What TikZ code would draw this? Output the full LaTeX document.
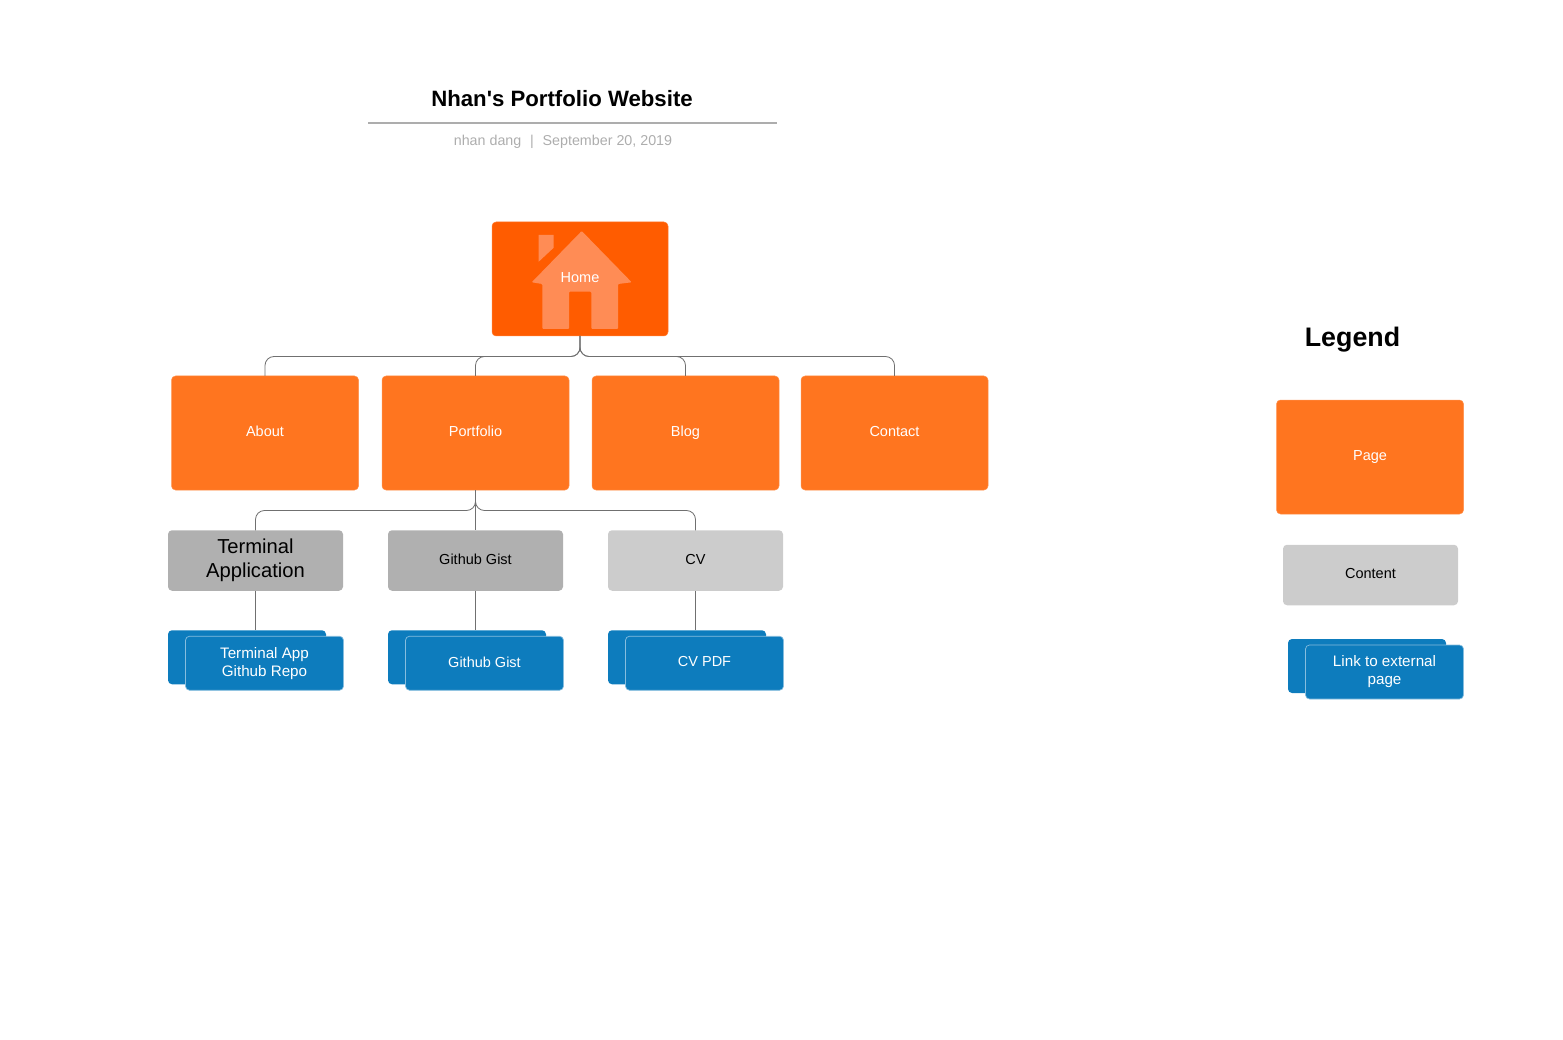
\documentclass[tikz,border=0pt]{standalone}
\usepackage{fontspec}
\setmainfont{Liberation Sans}
\newfontfamily\titlefont{Liberation Sans}
\usepackage{tikz}
\usetikzlibrary{positioning}
\definecolor{homeorange}{HTML}{FF5C00}
\definecolor{houseorange}{HTML}{FF8C55}
\definecolor{pageorange}{HTML}{FF751F}
\definecolor{darkcontent}{HTML}{B0B0B0}
\definecolor{lightcontent}{HTML}{CCCCCC}
\definecolor{linkblue}{HTML}{0D7CBD}
\definecolor{connector}{HTML}{707070}
\definecolor{subtitle}{HTML}{ADADAD}
\newcommand{\bodysize}{\fontsize{14.5}{18}\selectfont}
\newcommand{\linksize}{\fontsize{15.2}{18}\selectfont}
\tikzset{
	box/.style={rounded corners=4pt, inner sep=0pt, outer sep=0pt, align=center, font=\bodysize, execute at end node=\vphantom{g}},
	homebox/.style={box, fill=homeorange, draw=homeorange!80!white, line width=0.5pt, text=white, minimum width=176pt, minimum height=114pt},
	pagebox/.style={box, fill=pageorange, draw=pageorange!80!white, line width=0.5pt, text=white, minimum width=187pt, minimum height=114pt},
	contentbox/.style={box, text=black, minimum width=175pt, minimum height=60.5pt},
	linkback/.style={box, fill=linkblue, minimum width=158pt, minimum height=54pt},
	linkfront/.style={box, fill=linkblue, draw=linkblue!50!white, line width=0.7pt, text=white, minimum width=158pt, minimum height=54pt},
	wire/.style={draw=connector, line width=0.8pt, rounded corners=9pt},
}
\begin{document}
\begin{tikzpicture}[x=1pt,y=-1pt]
		\useasboundingbox (0,0) rectangle (1563,1040);
		
		% Title block
		\node[font=\titlefont\fontsize{22.2}{26}\selectfont\bfseries] (title) at (562,98.5) {Nhan's Portfolio Website};
		\coordinate (ruleleft) at (368,123);
		\coordinate (ruleright) at (777,123);
		\draw[draw=subtitle, line width=1.2pt] (ruleleft) -- (ruleright);
		\node[font=\fontsize{14.3}{18}\selectfont, text=subtitle] (byline) at (563,142) {nhan dang\, \,|\, \,September 20, 2019};
		
		% Define nodes
		\node[homebox] (home) at (580,279) {};
		\fill[houseorange, rounded corners=1pt] (581.7,231) -- (631.7,282.3) -- (618,284) -- (618,329) -- (591.3,329) -- (591.3,291.7) -- (569,291.7) -- (569,329) -- (542.3,329) -- (542.3,284) -- (531.7,282.3) -- cycle;
		\fill[houseorange] (538.7,235) -- (553.7,235) -- (553.7,247.7) -- (538.7,261.7) -- cycle;
		\node[font=\bodysize, text=white] (homelabel) at (580,277.5) {Home};
		
		\node[pagebox] (about) at (265,433) {About};
		\node[pagebox, right=23.5pt of about] (portfolio) {Portfolio};
		\node[pagebox, right=23pt of portfolio] (blog) {Blog};
		\node[pagebox, right=22pt of blog] (contact) {Contact};
		
		\node[contentbox, fill=darkcontent, font=\fontsize{20.2}{24}\selectfont] (terminal) at (255.5,560.5) {Terminal\\Application};
		\node[contentbox, fill=darkcontent, right=45pt of terminal] (gist) {Github Gist};
		\node[contentbox, fill=lightcontent, right=45pt of gist] (cv) {CV};
		
		\node[linkback, below right=39.5pt and 0pt of terminal.south west] (terminalback) {};
		\node[linkfront, font=\linksize, below left=45.5pt and -0.5pt of terminal.south east] (terminalrepo) {Terminal App\\Github Repo};
		\node[linkback, below right=39.5pt and 0pt of gist.south west] (gistback) {};
		\node[linkfront, below left=45.5pt and -0.5pt of gist.south east] (gistlink) {Github Gist};
		\node[linkback, below right=39.5pt and 0pt of cv.south west] (cvback) {};
		\node[linkfront, below left=45.5pt and -0.5pt of cv.south east] (cvlink) {CV PDF};
		
		% Legend
		\node[font=\fontsize{26.8}{32}\selectfont\bfseries] (legend) at (1352.5,339.5) {Legend};
		\node[pagebox] (pagekey) at (1370,457) {Page};
		\node[contentbox, fill=lightcontent] (contentkey) at (1370.5,575) {Content};
		\node[linkback] (linkkeyback) at (1367,666) {};
		\node[linkfront, font=\linksize] (linkkey) at (1384.5,672) {Link to external\\page};
		
		% Connect the nodes
		\coordinate (homebus) at (580,356.5);
		\coordinate (pagebus) at (475.5,510.5);
		\draw[wire] (home.south) -- (homebus) -| (about.north);
		\draw[wire] (home.south) -- (homebus) -| (portfolio.north);
		\draw[wire] (home.south) -- (homebus) -| (blog.north);
		\draw[wire] (home.south) -- (homebus) -| (contact.north);
		\draw[wire] (portfolio.south) -- (pagebus) -| (terminal.north);
		\draw[wire] (portfolio.south) -- (gist.north);
		\draw[wire] (portfolio.south) -- (pagebus) -| (cv.north);
		\draw[wire] (terminal.south) -- (terminal.south |- terminalback.north);
		\draw[wire] (gist.south) -- (gist.south |- gistback.north);
		\draw[wire] (cv.south) -- (cv.south |- cvback.north);
	\end{tikzpicture}
\end{document}
